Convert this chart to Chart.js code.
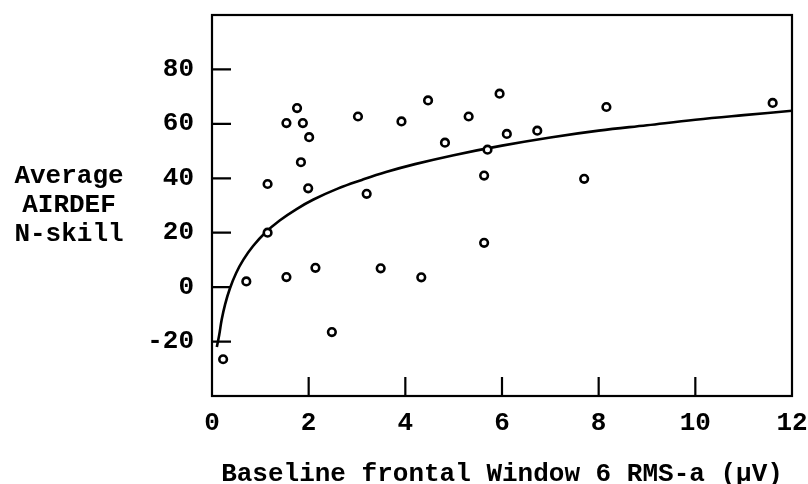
<!DOCTYPE html>
<html>
<head>
<meta charset="utf-8">
<script src="https://cdn.jsdelivr.net/npm/chart.js@4/dist/chart.umd.min.js"></script>
<style>
  body { margin: 0; background: #fff; }
</style>
</head>
<body>
<canvas id="myChart" width="808" height="484"></canvas>
<script>
// scatter points
let pointsX = [0.23, 0.71, 1.15, 1.15, 1.54, 1.54, 1.76, 1.84, 1.88, 1.99, 2.01, 2.14, 2.48, 3.02, 3.20,
               3.49, 3.92, 4.33, 4.47, 4.82, 5.31, 5.63, 5.63, 5.70, 5.95, 6.10, 6.73, 7.70, 8.16, 11.6];
let pointsY = [-26.5, 2.1, 20.0, 37.9, 3.7, 60.3, 65.8, 45.9, 60.3, 36.3, 55.1, 7.1, -16.5, 62.7, 34.3,
               6.9, 60.9, 3.6, 68.6, 53.1, 62.7, 41.0, 16.3, 50.5, 71.1, 56.3, 57.5, 39.8, 66.2, 67.7];

// fitted curve, read at a few places
let curveX = [0.1, 0.15, 0.2, 0.27, 0.37, 0.5, 0.65, 0.85, 1.1, 1.4, 1.75, 2.1, 2.6, 3.1, 3.6, 4.2, 5, 6, 7, 8, 9, 10, 11, 12];
let curveY = [-22, -17.5, -12, -6.4, -0.5, 5.2, 10.1, 15.1, 20, 24.5, 28.7, 32.2, 36.2, 39.4, 42.3, 45.2, 48.5, 52, 55, 57.5, 59.5, 61.5, 63.2, 64.8];

let xMarks = [2, 4, 6, 8, 10];
let yMarks = [-20, 0, 20, 40, 60, 80];
let yLabels = [-20, 0, 20, 40, 60, 80];
let yTitle = ['Average', 'AIRDEF', 'N-skill'];
let xTitle = 'Baseline frontal Window 6 RMS-a (\u00b5V)';

let fontFamily = '"Liberation Mono", "Courier New", monospace';

let frame = {
    id: 'frame',
    afterDatasetsDraw(chart) {
        let ctx = chart.ctx;
        let a = chart.chartArea;
        let x = chart.scales.x, y = chart.scales.y;
        ctx.save();
        ctx.strokeStyle = '#000';
        ctx.lineWidth = 2.2;
        ctx.strokeRect(a.left, a.top, a.right - a.left, a.bottom - a.top);
        ctx.beginPath();
        yMarks.forEach(v => {
            let p = y.getPixelForValue(v);
            ctx.moveTo(a.left, p);
            ctx.lineTo(a.left + 19, p);
        });
        xMarks.forEach(v => {
            let p = x.getPixelForValue(v);
            ctx.moveTo(p, a.bottom);
            ctx.lineTo(p, a.bottom - 19);
        });
        ctx.stroke();
        // horizontal y title
        ctx.fillStyle = '#000';
        ctx.font = 'bold 26px ' + fontFamily;
        ctx.textAlign = 'center';
        ctx.textBaseline = 'middle';
        let mid = y.getPixelForValue(30);
        yTitle.forEach((t, i) => ctx.fillText(t, 69, mid + (i - 1) * 29));
        ctx.restore();
    }
};

let ctx = document.querySelector('#myChart').getContext('2d');
let myChart = new Chart(ctx, {
    type: 'scatter',
    data: {
        datasets: [{
            label: 'subjects',
            data: pointsX.map((v, i) => ({x: v, y: pointsY[i]})),
            pointStyle: 'circle',
            pointRadius: 3.8,
            borderWidth: 2.6,
            pointBorderWidth: 2.6,
            backgroundColor: '#fff',
            borderColor: '#000',
            order: 0
        }, {
            type: 'line',
            label: 'fit',
            data: curveX.map((v, i) => ({x: v, y: curveY[i]})),
            borderColor: '#000',
            borderWidth: 2.6,
            pointRadius: 0,
            fill: false,
            tension: 0.4,
            order: 1
        }]
    },
    options: {
        responsive: false,
        devicePixelRatio: 1,
        animation: false,
        layout: { padding: { top: 15, right: 16, bottom: 0, left: 0 } },
        plugins: {
            legend: { display: false },
            tooltip: { enabled: false }
        },
        scales: {
            x: {
                type: 'linear',
                min: 0,
                max: 12,
                afterFit: s => { s.height = 88; s.paddingLeft = 0; s.paddingRight = 0; },
                grid: { display: false, drawTicks: false },
                border: { display: false },
                ticks: {
                    stepSize: 2,
                    autoSkip: false,
                    maxRotation: 0,
                    padding: 12,
                    color: '#000',
                    font: { family: fontFamily, size: 26, weight: 'bold' }
                },
                title: {
                    display: true,
                    text: xTitle,
                    color: '#000',
                    padding: 0,
                    font: { family: fontFamily, size: 26, weight: 'bold', lineHeight: 0.7 }
                }
            },
            y: {
                min: -40,
                max: 100,
                afterFit: s => { s.width = 212; s.paddingTop = 0; s.paddingBottom = 0; },
                grid: { display: false, drawTicks: false },
                border: { display: false },
                ticks: {
                    stepSize: 20,
                    padding: 18,
                    color: '#000',
                    font: { family: fontFamily, size: 26, weight: 'bold' },
                    callback: v => yLabels.includes(v) ? String(v) : ''
                }
            }
        }
    },
    plugins: [frame]
});
</script>
</body>
</html>
